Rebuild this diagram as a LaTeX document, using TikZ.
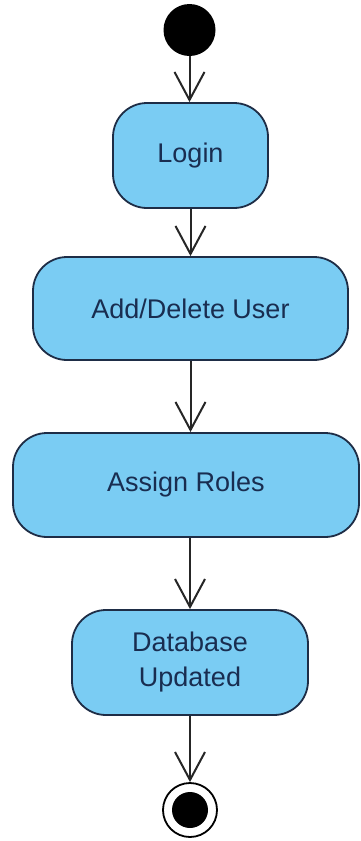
\documentclass[tikz,border=0pt]{standalone}
\usepackage{fontspec}
\setmainfont{Liberation Sans}
\usetikzlibrary{arrows.meta}
\definecolor{actfill}{RGB}{122,204,243}
\definecolor{actline}{RGB}{30,45,70}
\definecolor{acttext}{RGB}{25,45,80}
\tikzset{
  action/.style={draw=actline, line width=1.8pt, fill=actfill, rounded corners=34pt,
    text=acttext, font=\fontsize{27}{35}\selectfont, align=center, inner sep=0pt},
  flow/.style={draw=black!85, line width=2pt,
    -{Straight Barb[length=28pt, width=30pt, line width=2pt]}},
}
\begin{document}
\begin{tikzpicture}[x=1pt,y=-1pt]
  \useasboundingbox (0,0) rectangle (361,841);
  \fill[white] (0,0) rectangle (361,841);
  % initial state
  \node[circle, fill=black, minimum size=52pt, inner sep=0pt] (start) at (189.5,30) {};
  % actions
  \node[action, minimum width=155pt, minimum height=105pt] (login) at (190.5,155.5) {Login};
  \node[action, minimum width=315pt, minimum height=103pt] (adduser) at (190.5,308.5) {Add/Delete User};
  \node[action, minimum width=346pt, minimum height=104pt] (roles) at (186,485) {Assign Roles};
  \node[action, minimum width=236pt, minimum height=105pt] (db) at (190,662.5) {Database\\Updated};
  % final state
  \node[circle, draw=black, line width=1.8pt, minimum size=54pt, inner sep=0pt] (final) at (190,810) {};
  \node[circle, fill=black, minimum size=36pt, inner sep=0pt] (finaldot) at (final.center) {};
  % control flow
  \draw[flow] (start.south) -- (start.south |- login.north);
  \draw[flow] (login.south) -- (adduser.north);
  \draw[flow] (adduser.south) -- (adduser.south |- roles.north);
  \draw[flow] (roles.south -| db.north) -- (db.north);
  \draw[flow] (db.south) -- (final.north);
\end{tikzpicture}
\end{document}
